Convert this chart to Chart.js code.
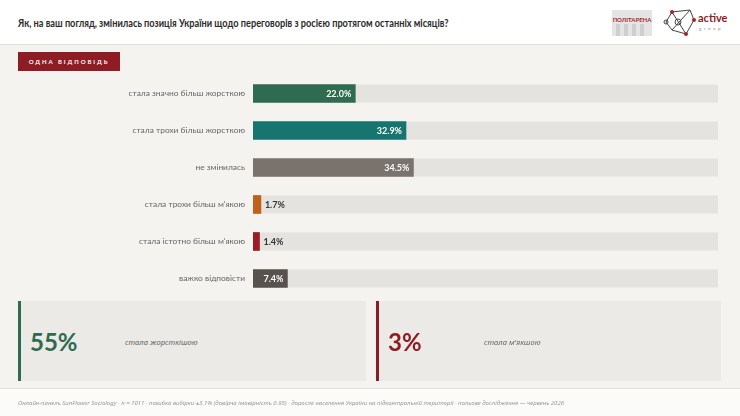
<!DOCTYPE html>
<html>
<head>
<meta charset="utf-8">
<script src="https://cdn.jsdelivr.net/npm/chart.js@4/dist/chart.umd.min.js"></script>
<style>
  body { margin: 0; width: 740px; height: 416px; background: #f4f3f0; font-family: Lato, "Open Sans", sans-serif; position: relative; overflow: hidden; }
  .header { position: absolute; left: 0; top: 0; width: 740px; height: 44px; background: #fff; border-bottom: 1px solid #e2e0dc; }
  .title { position: absolute; left: 18px; top: 16px; font-size: 11.5px; font-weight: bold; color: #2a2a2a; white-space: nowrap; transform: scaleX(0.8); transform-origin: left top; }
  .badge { position: absolute; left: 18px; top: 52px; width: 102px; height: 19px; background: #8e1c24; color: #fff; font-size: 6px; font-weight: bold; letter-spacing: 1.9px; line-height: 19px; text-align: center; }
  .chartbox { position: absolute; left: 0; top: 70px; width: 740px; height: 232px; }
  .card { position: absolute; top: 301px; height: 80px; background: #ebeae6; }
  .card .big { position: absolute; left: 9px; top: 26px; font-size: 24px; font-weight: bold; }
  .card .txt { position: absolute; top: 36px; font-family: "Noto Sans", sans-serif; font-size: 7.6px; font-style: italic; color: #666; }
  .footer { position: absolute; left: 0; top: 388px; width: 740px; height: 28px; background: #fbfbfa; border-top: 1px solid #e2e0dc; }
  .footer span { position: absolute; left: 18px; top: 10px; font-family: "Noto Sans", sans-serif; font-size: 6px; font-style: italic; color: #999; white-space: nowrap; }
</style>
</head>
<body>
<div class="header">
  <div class="title">Як, на ваш погляд, змінилась позиція України щодо переговорів з росією протягом останніх місяців?</div>
  <svg style="position:absolute;left:606px;top:6px" width="130" height="34">
    <rect x="6" y="4" width="40" height="26" fill="#e4e4e4"/>
    <rect x="10" y="18" width="4" height="12" fill="#cfcfcf"/>
    <rect x="18" y="18" width="4" height="12" fill="#cfcfcf"/>
    <rect x="26" y="18" width="4" height="12" fill="#cfcfcf"/>
    <rect x="34" y="18" width="4" height="12" fill="#cfcfcf"/>
    <text x="26" y="16" font-size="6" font-weight="bold" fill="#a3262e" text-anchor="middle" font-family="Lato">ПОЛІТАРЕНА</text>
    <g stroke="#444" stroke-width="1" fill="none">
      <polyline points="66,6 84,4 88,14 80,28 66,24 60,16 66,6"/>
      <line x1="66" y1="6" x2="80" y2="28"/>
      <line x1="84" y1="4" x2="66" y2="24"/>
      <circle cx="72" cy="16" r="3"/>
      <circle cx="60" cy="16" r="2"/>
    </g>
    <circle cx="66" cy="6" r="2" fill="#a3262e"/>
    <circle cx="88" cy="14" r="2" fill="#a3262e"/>
    <circle cx="80" cy="28" r="2" fill="#a3262e"/>
    <text x="92" y="16" font-size="11" font-weight="bold" fill="#8e1c24" font-family="Lato">active</text>
    <text x="93" y="24" font-size="4.5" letter-spacing="2.5" fill="#888" font-family="Lato">group</text>
  </svg>
</div>
<div class="badge">ОДНА ВІДПОВІДЬ</div>
<div class="chartbox"><canvas id="grafica"></canvas></div>

<div class="card" style="left:18px;width:345px;border-left:3px solid #2e6b4f">
  <div class="big" style="color:#2e6b4f">55%</div>
  <div class="txt" style="left:104px">стала жорсткішою</div>
</div>
<div class="card" style="left:376px;width:342px;border-left:3px solid #8e1c24">
  <div class="big" style="color:#8e1c24">3%</div>
  <div class="txt" style="left:105px">стала м'якшою</div>
</div>
<div class="footer"><span>Онлайн-панель SunFlower Sociology · n = 1011 · похибка вибірки ±3.1% (довірча імовірність 0.95) · доросле населення України на підконтрольній території · польове дослідження — червень 2026</span></div>

<script>
const categorias = [
  "стала значно більш жорсткою",
  "стала трохи більш жорсткою",
  "не змінилась",
  "стала трохи більш м'якою",
  "стала істотно більш м'якою",
  "важко відповісти"
];
const valores = [22.0, 32.9, 34.5, 1.7, 1.4, 7.4];
const colores = ["#2e6b4f", "#17756f", "#7a726d", "#c0611a", "#9b1c24", "#58524e"];
const escalaMax = 100;

// fondo gris de cada barra (hasta el 100%)
const pistas = {
  id: "pistas",
  beforeDatasetsDraw(chart) {
    const ctx = chart.ctx;
    const x = chart.scales.x;
    const meta = chart.getDatasetMeta(0);
    ctx.save();
    ctx.fillStyle = "#e4e3e0";
    meta.data.forEach(bar => {
      ctx.fillRect(x.getPixelForValue(0), bar.y - bar.height / 2, x.getPixelForValue(escalaMax) - x.getPixelForValue(0), bar.height);
    });
    ctx.restore();
  }
};

// etiquetas de valor
const etiquetas = {
  id: "etiquetas",
  afterDatasetsDraw(chart) {
    const ctx = chart.ctx;
    const meta = chart.getDatasetMeta(0);
    ctx.save();
    ctx.font = "bold 9px Lato";
    ctx.textBaseline = "middle";
    meta.data.forEach((bar, i) => {
      const texto = valores[i].toFixed(1) + "%";
      if (valores[i] >= 5) {
        ctx.fillStyle = "#ffffff";
        ctx.textAlign = "right";
        ctx.fillText(texto, bar.x - 4, bar.y + 0.5);
      } else {
        ctx.fillStyle = "#333333";
        ctx.textAlign = "left";
        ctx.fillText(texto, bar.x + 4, bar.y + 0.5);
      }
    });
    ctx.restore();
  }
};

new Chart(document.getElementById("grafica"), {
  type: "bar",
  data: {
    labels: categorias,
    datasets: [{
      data: valores,
      backgroundColor: colores,
      barThickness: 18,
      borderWidth: 0
    }]
  },
  options: {
    indexAxis: "y",
    responsive: true,
    maintainAspectRatio: false,
    animation: false,
    layout: { padding: { top: 4, bottom: 5, right: 22, left: 0 } },
    plugins: { legend: { display: false }, tooltip: { enabled: false } },
    scales: {
      x: { display: false, min: 0, max: escalaMax },
      y: {
        grid: { display: false },
        border: { display: false },
        ticks: { color: "#666", font: { family: "Lato", size: 8.4 }, padding: 0 },
        afterFit(scale) { scale.width = 253; }
      }
    }
  },
  plugins: [pistas, etiquetas]
});
</script>
</body>
</html>
